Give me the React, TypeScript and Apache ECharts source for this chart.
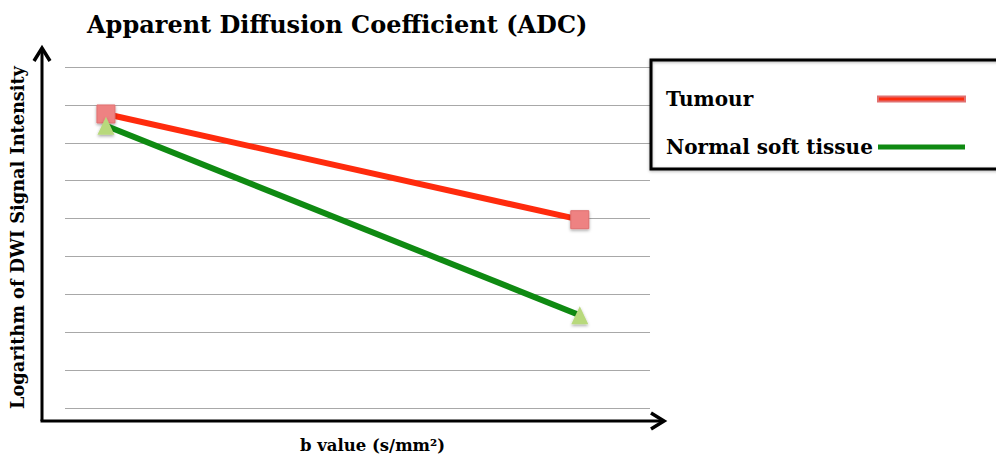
import React, { useEffect, useRef } from "react";
import * as echarts from "echarts";

const bValues = [70, 880];
const tumour = [7.76, 4.97];
const normal = [7.45, 2.45];
const seriesNames = ["Tumour", "Normal soft tissue"];
const titleText = "Apparent Diffusion Coefficient (ADC)";
const xTitle = "b value (s/mm²)";
const yTitle = "Logarithm of DWI Signal Intensity";

const FONT = "DejaVu Serif";
const RED = "#ff2b0d";
const GREEN = "#0f8a12";

export default function App() {
  const ref = useRef<HTMLDivElement>(null);
  useEffect(() => {
    if (!ref.current) return;
    const chart = echarts.init(ref.current, null, { renderer: "svg" });
    const pts = (ys: number[]) => bValues.map((x, i) => [x, ys[i]]);
    chart.setOption({
      animation: false,
      backgroundColor: "#ffffff",
      title: {
        text: titleText,
        left: 82,
        top: 7,
        textStyle: { fontFamily: FONT, fontSize: 24, fontWeight: "bold", color: "#000" },
      },
      grid: { left: 60, right: 346, top: 67, bottom: 48 },
      xAxis: {
        type: "value",
        min: 0,
        max: 1000,
        name: xTitle,
        nameLocation: "middle",
        nameGap: 29,
        nameTextStyle: { fontFamily: FONT, fontSize: 16.5, fontWeight: "bold", color: "#000", padding: [0, 0, 0, 30] },
        axisLine: { show: false },
        axisTick: { show: false },
        axisLabel: { show: false },
        splitLine: { show: false },
      },
      yAxis: {
        type: "value",
        min: 0,
        max: 9,
        interval: 1,
        name: yTitle,
        nameLocation: "middle",
        nameGap: 39,
        nameTextStyle: { fontFamily: FONT, fontSize: 17.7, fontWeight: "bold", color: "#000" },
        axisLine: { show: false },
        axisTick: { show: false },
        axisLabel: { show: false },
        splitLine: { show: true, lineStyle: { color: "#a8a8a8", width: 1 } },
      },
      legend: {
        orient: "vertical",
        left: 666,
        top: 89,
        align: "right",
        itemGap: 28,
        icon: "rect",
        itemWidth: 87,
        itemHeight: 5,
        padding: 0,
        formatter: "{a|{name}}",
        textStyle: {
          fontFamily: FONT,
          fontSize: 20,
          fontWeight: "bold",
          color: "#000",
          rich: {
            a: { fontFamily: FONT, fontSize: 20, fontWeight: "bold", color: "#000", width: 207, align: "left", lineHeight: 24 },
          },
        },
        data: [
          { name: seriesNames[0], itemStyle: { color: RED } },
          { name: seriesNames[1], itemStyle: { color: GREEN } },
        ],
      },
      graphic: [
        {
          type: "rect",
          shape: { x: 651, y: 60, width: 400, height: 109 },
          style: { fill: "transparent", stroke: "#000", lineWidth: 3, shadowBlur: 3, shadowColor: "rgba(0,0,0,0.3)", shadowOffsetY: 1 },
          z: 10,
        },
        {
          type: "polyline",
          shape: { points: [[42, 421], [42, 49]] },
          style: { stroke: "#000", lineWidth: 3, fill: "none" },
          z: 10,
        },
        {
          type: "polyline",
          shape: { points: [[34, 61], [42, 48], [50, 61]] },
          style: { stroke: "#000", lineWidth: 3.5, fill: "none", lineJoin: "miter" },
          z: 10,
        },
        {
          type: "polyline",
          shape: { points: [[40.5, 421], [662, 421]] },
          style: { stroke: "#000", lineWidth: 3, fill: "none" },
          z: 10,
        },
        {
          type: "polyline",
          shape: { points: [[651, 413], [664, 421], [651, 429]] },
          style: { stroke: "#000", lineWidth: 3.5, fill: "none", lineJoin: "miter" },
          z: 10,
        },
      ],
      series: [
        {
          name: seriesNames[0],
          type: "line",
          data: pts(tumour),
          symbol: "rect",
          symbolSize: 18,
          lineStyle: { color: RED, width: 6 },
          itemStyle: {
            color: "#ee8282",
            borderColor: "#e07070",
            borderWidth: 1,
            shadowBlur: 3,
            shadowColor: "rgba(0,0,0,0.35)",
            shadowOffsetY: 1.5,
          },
          z: 3,
        },
        {
          name: seriesNames[1],
          type: "line",
          data: pts(normal),
          symbol: "triangle",
          symbolSize: [17, 18],
          lineStyle: { color: GREEN, width: 6 },
          itemStyle: {
            color: "#b8d97c",
            shadowBlur: 3,
            shadowColor: "rgba(0,0,0,0.35)",
            shadowOffsetY: 1.5,
          },
          z: 4,
        },
      ],
    });
    return () => chart.dispose();
  }, []);
  return (
    <div
      ref={ref}
      style={{ position: "fixed", left: 0, top: 0, width: 996, height: 459 }}
    />
  );
}
